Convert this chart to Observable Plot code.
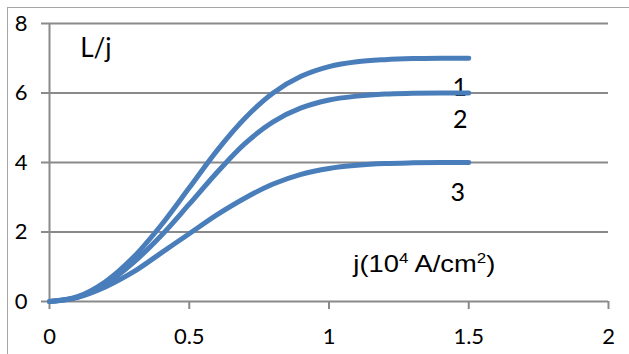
<!DOCTYPE html>
<html>
<head>
<meta charset="utf-8">
<script src="https://cdn.jsdelivr.net/npm/d3@7"></script>
<script src="https://cdn.jsdelivr.net/npm/@observablehq/plot@0.6"></script>
<style>
  html, body { margin: 0; padding: 0; background: #fff; }
  #wrap { position: relative; width: 629px; height: 354px; overflow: hidden; }
  #frame { position: absolute; left: 7px; top: 7px; right: -10px; bottom: -10px;
           border-left: 1.5px solid #a6a6a6; border-top: 1.5px solid #a6a6a6; pointer-events: none; }
</style>
</head>
<body>
<div id="wrap"><div id="frame"></div></div>
<script>
// Data
const xs = [0, 0.1, 0.2, 0.3, 0.4, 0.5, 0.6, 0.7, 0.8, 0.9, 1.0, 1.1, 1.2, 1.3, 1.4, 1.5];
const curve1 = [0, 0.14, 0.57, 1.27, 2.2, 3.27, 4.35, 5.28, 6.0, 6.48, 6.76, 6.9, 6.96, 6.99, 7.0, 7.0];
const curve2 = [0, 0.12, 0.5, 1.12, 1.9, 2.8, 3.72, 4.55, 5.17, 5.57, 5.8, 5.91, 5.97, 5.99, 6.0, 6.0];
const curve3 = [0, 0.12, 0.42, 0.85, 1.4, 1.95, 2.5, 2.98, 3.38, 3.66, 3.83, 3.92, 3.97, 3.99, 4.0, 4.0];
const seriesNames = ["1", "2", "3"];
const xTicks = [0, 0.5, 1, 1.5, 2];
const yTicks = [0, 2, 4, 6, 8];
const gridTicks = [2, 4, 6, 8];

// Annotations (data coordinates)
const seriesLabelX = [1.468, 1.470, 1.461];
const seriesLabelY = [6.15, 5.21, 3.11];
const yTitle = "L/j";
const xTitle = "j(10⁴ A/cm²)";
const xTitleParts = [["j(10", false], ["4", true], [" A/cm", false], ["2", true], [")", false]];

const allSeries = [curve1, curve2, curve3];
const data = [];
allSeries.forEach((vals, k) => vals.forEach((v, i) => data.push({x: xs[i], y: v, s: seriesNames[k]})));
const labels = seriesNames.map((n, i) => ({text: n, x: seriesLabelX[i], y: seriesLabelY[i]}));

const gray = "#8a8a8a";
const blue = "#4a7ebb";

const chart = Plot.plot({
  width: 629,
  height: 354,
  marginLeft: 49,
  marginRight: 21,
  marginTop: 23,
  marginBottom: 53,
  style: {fontFamily: "Lato, sans-serif", color: "#000", background: "transparent"},
  x: {domain: [0, 2]},
  y: {domain: [0, 8]},
  marks: [
    Plot.gridY(gridTicks, {stroke: gray, strokeOpacity: 1, strokeWidth: 2}),
    Plot.axisY(yTicks, {tickSize: 8, tickPadding: 14, stroke: gray, strokeWidth: 2, fontSize: 22, fill: "#000", label: null}),
    Plot.axisX(xTicks, {tickSize: 8, tickPadding: 19, stroke: gray, strokeWidth: 2, fontSize: 22, fill: "#000", label: null, tickFormat: d => String(d)}),
    Plot.ruleY([0], {stroke: gray, strokeWidth: 2}),
    Plot.ruleX([0], {stroke: gray, strokeWidth: 2}),
    Plot.text(labels, {x: "x", y: "y", text: "text", fontSize: 25, fill: "#000", textAnchor: "middle", lineAnchor: "middle"}),
    Plot.text([yTitle], {x: 0.166, y: 7.27, text: d => d, fontSize: 26, fill: "#000", textAnchor: "middle", lineAnchor: "middle"}),
    Plot.text([xTitle], {x: 1.341, y: 1.06, text: d => d, fontSize: 24, fontFamily: "Liberation Sans, Arial, sans-serif", fill: "#000", textAnchor: "middle", lineAnchor: "middle"}),
    Plot.line(data, {x: "x", y: "y", z: "s", stroke: blue, strokeWidth: 5, curve: "catmull-rom", strokeLinecap: "round", strokeLinejoin: "round"})
  ]
});

// Render the axis title with true superscripts
d3.select(chart).selectAll("text")
  .filter(function() { return this.textContent === xTitle; })
  .each(function() {
    const t = d3.select(this);
    t.text(null);
    let raised = false;
    xTitleParts.forEach(([s, sup]) => {
      const ts = t.append("tspan").text(s);
      if (sup && !raised) { ts.attr("font-size", "0.62em").attr("dy", "-0.62em"); raised = true; }
      else if (!sup && raised) { ts.attr("dy", "0.385em"); raised = false; }
    });
    t.attr("textLength", 142).attr("lengthAdjust", "spacingAndGlyphs");
  });

const wrap = document.getElementById("wrap");
wrap.insertBefore(chart, wrap.firstChild);
</script>
</body>
</html>
